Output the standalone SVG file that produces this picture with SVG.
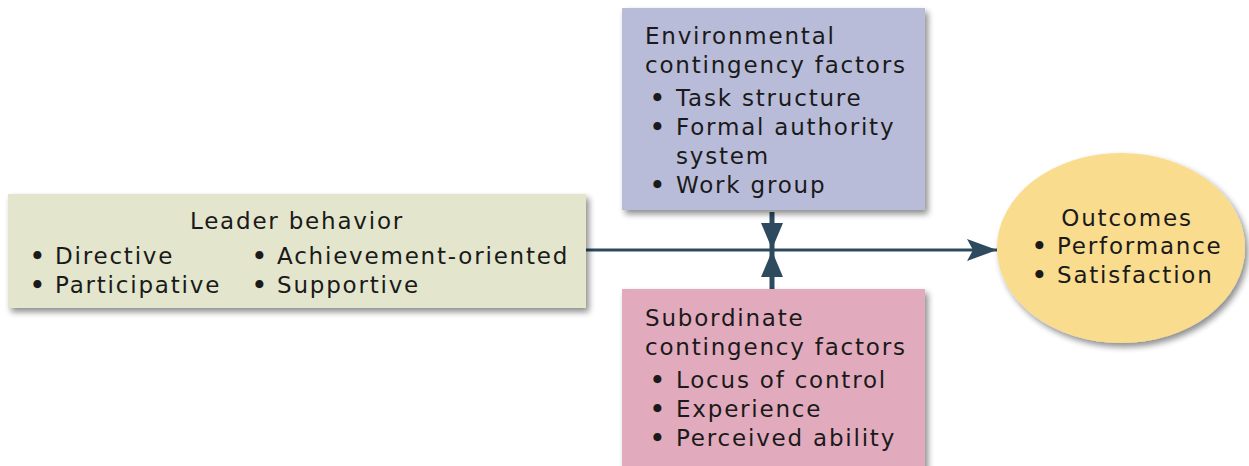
<svg xmlns="http://www.w3.org/2000/svg" width="1249" height="466" viewBox="0 0 1249 466">
<defs>
<filter id="sh" x="-10%" y="-10%" width="130%" height="130%">
<feGaussianBlur in="SourceAlpha" stdDeviation="3"/>
<feOffset dx="3" dy="4" result="b"/>
<feComponentTransfer><feFuncA type="linear" slope="0.45"/></feComponentTransfer>
<feMerge><feMergeNode/><feMergeNode in="SourceGraphic"/></feMerge>
</filter>
<marker id="ahL" viewBox="0 0 30 22" refX="30" refY="11" markerWidth="30" markerHeight="22" markerUnits="userSpaceOnUse" orient="auto">
<path d="M0,0 L30,11 L0,22 L6,11 Z" fill="#2d4a5e"/>
</marker>
<marker id="ahV" viewBox="0 0 26 22" refX="26" refY="11" markerWidth="26" markerHeight="22" markerUnits="userSpaceOnUse" orient="auto">
<path d="M0,0 L26,11 L0,22 Z" fill="#2d4a5e"/>
</marker>
</defs>
<style>
text { font-family: "DejaVu Sans", "Liberation Sans", sans-serif; font-size: 23px; letter-spacing: 1.8px; fill: #1a1a1a; }
.b { letter-spacing: 0; font-weight: bold; }
.conn { stroke: #2d4a5e; stroke-width: 3; fill: none; }
.vconn { stroke: #2d4a5e; stroke-width: 5; fill: none; }
</style>
<rect width="1249" height="466" fill="#ffffff"/>
<g id="connectors">
<line class="conn" x1="586" y1="250" x2="997" y2="250" marker-end="url(#ahL)"/>
<line class="vconn" x1="772" y1="212" x2="772" y2="249" marker-end="url(#ahV)"/>
<line class="vconn" x1="772" y1="290" x2="772" y2="251" marker-end="url(#ahV)"/>
</g>
<g id="leader">
<rect x="8" y="194" width="578" height="114" fill="#e3e6cc" filter="url(#sh)"/>
<text x="297" y="229" text-anchor="middle">Leader behavior</text>
<text class="b" x="30" y="264">•</text><text x="55" y="264">Directive</text>
<text class="b" x="30" y="293">•</text><text x="55" y="293">Participative</text>
<text class="b" x="252" y="264">•</text><text x="277" y="264">Achievement-oriented</text>
<text class="b" x="252" y="293">•</text><text x="277" y="293">Supportive</text>
</g>
<g id="environmental">
<rect x="622" y="8" width="303" height="202" fill="#b9bcd9" filter="url(#sh)"/>
<text x="645" y="44">Environmental</text>
<text x="645" y="73">contingency factors</text>
<text class="b" x="650" y="106">•</text><text x="676" y="106">Task structure</text>
<text class="b" x="650" y="135">•</text><text x="676" y="135">Formal authority</text>
<text x="676" y="164">system</text>
<text class="b" x="650" y="193">•</text><text x="676" y="193">Work group</text>
</g>
<g id="subordinate">
<rect x="622" y="289" width="303" height="182" fill="#e2abbd" filter="url(#sh)"/>
<text x="645" y="326">Subordinate</text>
<text x="645" y="355">contingency factors</text>
<text class="b" x="650" y="388">•</text><text x="676" y="388">Locus of control</text>
<text class="b" x="650" y="417">•</text><text x="676" y="417">Experience</text>
<text class="b" x="650" y="446">•</text><text x="676" y="446">Perceived ability</text>
</g>
<g id="outcomes">
<ellipse cx="1121" cy="248" rx="124" ry="95" fill="#f9dc8e" filter="url(#sh)"/>
<text x="1127" y="226" text-anchor="middle">Outcomes</text>
<text class="b" x="1032" y="254">•</text><text x="1057" y="254">Performance</text>
<text class="b" x="1032" y="283">•</text><text x="1057" y="283">Satisfaction</text>
</g>
</svg>
